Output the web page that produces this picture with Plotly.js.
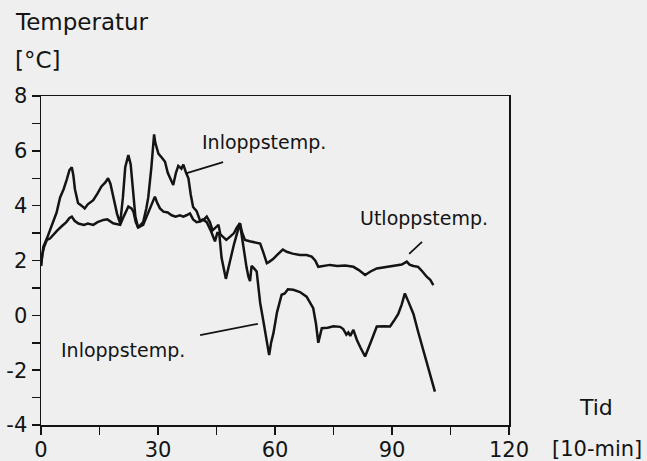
<!DOCTYPE html>
<html>
<head>
<meta charset="utf-8">
<script src="https://cdn.plot.ly/plotly-3.0.1.min.js"></script>
<style>html,body{margin:0;padding:0;background:#efefef;}#chart{width:647px;height:461px;}</style>
</head>
<body>
<div id="chart"></div>
<script>
// Inloppstemp. (inlet temperature)
const inletX = [0,0.3,0.6,1.5,2.3,3.1,4.0,4.9,5.8,6.6,7.3,7.9,8.3,8.7,9.5,10.4,11.2,12.0,13.4,14.5,15.5,16.5,17.2,17.8,18.6,19.5,20.3,21.0,21.6,22.4,23.0,23.6,24.2,24.9,26.2,27.0,27.5,28.3,29.0,29.3,30.1,31.0,31.8,32.5,33.3,33.9,34.6,35.2,36.0,36.5,37.2,37.8,38.4,39.0,39.9,40.8,41.5,42.5,43.5,44.6,45.2,45.7,46.3,47.4,48.5,49.5,51.0,51.5,52.2,52.7,53.2,53.6,54.0,54.4,55.3,55.8,56.2,57.0,57.4,58.0,58.5,59.0,59.6,60.5,61.7,62.5,63.3,64.7,65.5,66.4,68.1,69.8,70.5,71.1,72.0,73.5,75.0,76.7,77.5,78.3,78.8,79.3,80.1,81.0,82.0,83.1,84.5,86.1,88.0,89.5,90.5,91.6,92.5,93.3,94.2,95.5,96.7,98.0,99.0,99.7,100.4,101.0];
const inletY = [1.8,2.3,2.5,2.8,3.1,3.4,3.75,4.3,4.6,4.95,5.3,5.4,5.1,4.6,4.1,4.0,3.9,4.05,4.2,4.45,4.7,4.85,5.0,4.8,4.3,3.7,3.35,4.3,5.4,5.85,5.5,4.4,3.6,3.2,3.4,3.9,4.3,5.4,6.6,6.3,5.9,5.75,5.6,5.2,4.9,4.75,5.2,5.45,5.35,5.5,5.2,5.0,4.4,3.95,3.8,3.45,3.5,3.4,3.1,2.7,3.0,3.0,2.1,1.33,2.0,2.6,3.36,2.85,2.2,1.75,1.4,1.25,1.8,1.75,1.6,1.0,0.45,-0.2,-0.55,-1.1,-1.45,-1.0,-0.65,0.1,0.75,0.8,0.95,0.93,0.9,0.85,0.68,0.26,-0.3,-1.0,-0.47,-0.45,-0.4,-0.42,-0.5,-0.7,-0.62,-0.75,-0.53,-0.9,-1.2,-1.5,-1.0,-0.41,-0.4,-0.41,-0.2,0.05,0.4,0.8,0.5,0.05,-0.6,-1.26,-1.7,-2.1,-2.5,-2.78];

// Utloppstemp. (outlet temperature)
const outletX = [0,0.3,0.8,1.5,2.3,3.2,4.2,5.3,6.5,7.3,7.9,8.6,9.6,11.0,12.0,13.4,14.5,16.0,17.0,18.5,20.3,21.2,22.4,23.2,23.7,24.3,24.9,26.2,27.3,28.3,29.2,29.8,30.5,31.4,32.5,33.5,34.5,35.6,36.5,37.3,38.2,39.0,39.9,40.8,41.8,42.5,43.3,44.0,44.6,45.5,46.0,46.7,47.5,48.5,49.5,50.2,51.0,51.6,52.3,53.5,55.0,56.2,57.0,57.9,58.5,59.5,60.5,61.3,62.0,63.0,64.5,66.4,68.1,69.4,70.3,71.1,72.5,74.1,76.0,78.0,80.1,81.5,83.1,84.5,86.1,88.0,89.5,91.2,92.5,93.8,94.5,95.5,96.7,97.8,98.9,99.8,100.6];
const outletY = [1.8,2.2,2.5,2.75,2.8,2.95,3.1,3.25,3.4,3.55,3.6,3.45,3.35,3.3,3.35,3.3,3.4,3.48,3.5,3.36,3.3,3.6,3.97,3.9,3.78,3.4,3.2,3.3,3.7,4.0,4.33,4.1,3.9,3.78,3.75,3.65,3.6,3.65,3.6,3.65,3.72,3.5,3.4,3.42,3.5,3.6,3.4,3.1,3.17,3.3,2.95,2.87,2.75,2.87,3.0,3.2,3.36,3.0,2.75,2.7,2.65,2.62,2.3,1.9,1.95,2.05,2.2,2.3,2.4,2.32,2.25,2.2,2.2,2.14,2.0,1.77,1.8,1.84,1.8,1.82,1.77,1.65,1.47,1.6,1.71,1.75,1.78,1.84,1.85,1.96,1.85,1.8,1.77,1.6,1.41,1.3,1.1];

const xTicks = [0,30,60,90,120];
const yTicks = [-4,-2,0,2,4,6,8];

const FONT = 'DejaVu Sans, Arial, sans-serif';
const INK = '#141414';

const traces = [
  {x: inletX, y: inletY, type: 'scatter', mode: 'lines', name: 'Inloppstemp.',
   line: {color: INK, width: 2.5}},
  {x: outletX, y: outletY, type: 'scatter', mode: 'lines', name: 'Utloppstemp.',
   line: {color: INK, width: 2.5}}
];

const layout = {
  width: 647, height: 461,
  margin: {l: 41, r: 138, t: 96, b: 36},
  paper_bgcolor: '#efefef',
  plot_bgcolor: '#efefef',
  showlegend: false,
  font: {family: FONT, color: INK, size: 21},
  xaxis: {
    range: [0, 120], tickvals: xTicks, ticktext: xTicks.map(String),
    ticks: 'outside', ticklen: 8, tickwidth: 1.5, tickcolor: INK,
    ticklabelstandoff: -3,
    minor: {dtick: 15, tick0: 0, ticks: 'outside', ticklen: 8, tickwidth: 1.5, tickcolor: INK},
    showline: true, linecolor: INK, linewidth: 1.5, mirror: true,
    showgrid: false, zeroline: false,
    tickfont: {family: FONT, size: 21, color: INK}
  },
  yaxis: {
    range: [-4, 8], tickvals: yTicks, ticktext: yTicks.map(String),
    ticks: 'outside', ticklen: 8, tickwidth: 1.5, tickcolor: INK,
    minor: {dtick: 1, tick0: 0, ticks: 'outside', ticklen: 8, tickwidth: 1.5, tickcolor: INK},
    showline: true, linecolor: INK, linewidth: 1.5, mirror: true,
    showgrid: false, zeroline: false,
    tickfont: {family: FONT, size: 21, color: INK}
  },
  annotations: [
    {text: 'Temperatur', xref: 'paper', yref: 'paper', x: -0.06, y: 1.225, xanchor: 'left', yanchor: 'middle', showarrow: false, font: {family: FONT, size: 23, color: INK}},
    {text: '[°C]', xref: 'paper', yref: 'paper', x: -0.06, y: 1.109, xanchor: 'left', yanchor: 'middle', showarrow: false, font: {family: FONT, size: 23, color: INK}},
    {text: 'Tid', xref: 'paper', yref: 'paper', x: 1.186, y: 0.052, xanchor: 'center', yanchor: 'middle', showarrow: false, font: {family: FONT, size: 22, color: INK}},
    {text: '[10-min]', xref: 'paper', yref: 'paper', x: 1.188, y: -0.072, xanchor: 'center', yanchor: 'middle', showarrow: false, font: {family: FONT, size: 21, color: INK}},
    {text: 'Inloppstemp.', xref: 'x', yref: 'y', x: 57.2, y: 6.32, xanchor: 'center', yanchor: 'middle', showarrow: false, font: {family: FONT, size: 19, color: INK}},
    {text: 'Utloppstemp.', xref: 'x', yref: 'y', x: 98.2, y: 3.55, xanchor: 'center', yanchor: 'middle', showarrow: false, font: {family: FONT, size: 19, color: INK}},
    {text: 'Inloppstemp.', xref: 'x', yref: 'y', x: 21.0, y: -1.26, xanchor: 'center', yanchor: 'middle', showarrow: false, font: {family: FONT, size: 19, color: INK}}
  ],
  shapes: [
    {type: 'line', xref: 'x', yref: 'y', x0: 37.4, y0: 5.19, x1: 46.7, y1: 5.59, line: {color: INK, width: 1.8}},
    {type: 'line', xref: 'x', yref: 'y', x0: 40.8, y0: -0.72, x1: 55.6, y1: -0.31, line: {color: INK, width: 1.8}},
    {type: 'line', xref: 'x', yref: 'y', x0: 94.4, y0: 2.24, x1: 97.7, y1: 2.68, line: {color: INK, width: 1.8}}
  ]
};

Plotly.newPlot('chart', traces, layout, {displayModeBar: false, staticPlot: true});
</script>
</body>
</html>
